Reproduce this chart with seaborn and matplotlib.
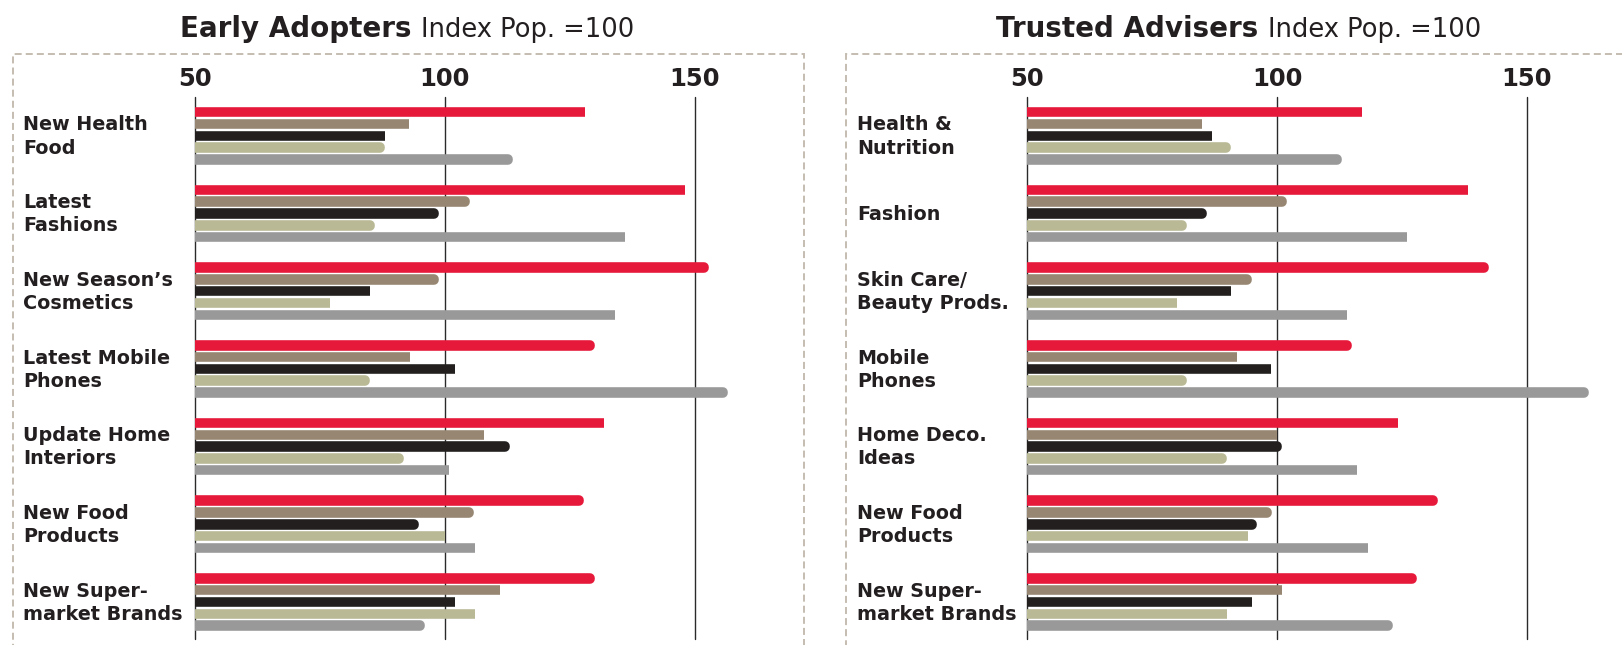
import numpy as np
import pandas as pd
import matplotlib
matplotlib.use("Agg")
import matplotlib.pyplot as plt
import matplotlib.transforms as mtransforms
from matplotlib.patches import Rectangle
import seaborn as sns

# ---------------- data ----------------
ea_categories = ["New Health\nFood", "Latest\nFashions", "New Season\u2019s\nCosmetics",
                 "Latest Mobile\nPhones", "Update Home\nInteriors", "New Food\nProducts",
                 "New Super-\nmarket Brands"]
ta_categories = ["Health &\nNutrition", "Fashion", "Skin Care/\nBeauty Prods.",
                 "Mobile\nPhones", "Home Deco.\nIdeas", "New Food\nProducts",
                 "New Super-\nmarket Brands"]
series = ["Series 1", "Series 2", "Series 3", "Series 4", "Series 5"]
colors = ["#E6193A", "#978772", "#231F1F", "#B9B995", "#999999"]

ea_s1 = [129, 149, 152.8, 130.1, 132.9, 127.8, 130.1]
ea_s2 = [93.9, 105, 98.9, 94, 108.8, 105.8, 112]
ea_s3 = [89.1, 98.9, 86, 103, 113, 94.9, 103]
ea_s4 = [88, 86, 78, 85.1, 91.9, 101, 107]
ea_s5 = [113.7, 137, 135, 156.7, 101.8, 107, 96.1]

ta_s1 = [117.9, 139.2, 142.3, 115, 125.1, 132.1, 127.9]
ta_s2 = [86, 101.9, 95, 92.9, 101, 99, 101.9]
ta_s3 = [87.9, 86, 91.8, 99.8, 101, 96, 96]
ta_s4 = [90.7, 81.9, 81, 82, 90, 95.1, 91]
ta_s5 = [112.9, 127, 115, 162.3, 117, 119.1, 123.1]

ticks = [50, 100, 150]
tick_labels = ["50", "100", "150"]
title_bold = ["Early Adopters", "Trusted Advisers"]
title_rest = "Index Pop. =100"


def make_df(cats, vals):
    rows = []
    for s, v in zip(series, vals):
        for c, x in zip(cats, v):
            rows.append({"category": c, "series": s, "value": x})
    return pd.DataFrame(rows)


ea_df = make_df(ea_categories, [ea_s1, ea_s2, ea_s3, ea_s4, ea_s5])
ta_df = make_df(ta_categories, [ta_s1, ta_s2, ta_s3, ta_s4, ta_s5])

# ---------------- style ----------------
sns.set_style("white")
plt.rcParams["font.family"] = ["DejaVu Sans"]

W, H = 1622, 645
fig = plt.figure(figsize=(W / 100, H / 100), dpi=100)

ax_top_px, ax_bot_px = 96.7, 639.0
ax_w_px = 590.0
px_per_unit = 5.0
panels = [
    dict(df=ea_df, cats=ea_categories, left_px=194.5, label_px=23.3,
         box=(12.7, 804.0), title_center=407),
    dict(df=ta_df, cats=ta_categories, left_px=1027.0, label_px=857.3,
         box=(845.7, 1700.0), title_center=1239),
]

lw_px = 9.6
lw_pt = lw_px * 72 / 100
cap_units = (lw_px / 2) / px_per_unit

axes = []
for p in panels:
    ax = fig.add_axes([p["left_px"] / W, (H - ax_bot_px) / H,
                       ax_w_px / W, (ax_bot_px - ax_top_px) / H])
    axes.append(ax)
    sns.barplot(data=p["df"], x="value", y="category", hue="series",
                hue_order=series, order=p["cats"], palette=colors,
                orient="h", width=0.759, dodge=True, saturation=1,
                legend=False, ax=ax)
    for patch in ax.patches:
        y0, h = patch.get_y(), patch.get_height()
        c = y0 + h / 2
        nh = h * 0.04
        patch.set_y(c - nh / 2)
        patch.set_height(nh)
        patch.set_width(patch.get_width() - cap_units)
        patch.set_edgecolor(patch.get_facecolor())
        patch.set_linewidth(lw_pt)
        patch.set_joinstyle("round")
        patch.set_zorder(2)

    ax.set_xlim(50, 50 + ax_w_px / px_per_unit)
    ax.set_ylim(6.476, -0.503)
    ax.set_yticks([])
    ax.set_xlabel("")
    ax.set_ylabel("")
    for s in ax.spines.values():
        s.set_visible(False)
    ax.xaxis.tick_top()
    ax.set_xticks(ticks)
    ax.set_xticklabels(tick_labels, fontsize=17.5, fontweight="bold", color="#231F20")
    ax.tick_params(axis="x", length=0, pad=4)
    for v in ticks:
        ax.axvline(v, color="#2a2a2a", lw=1.0, zorder=0.5, clip_on=False)

    trans = mtransforms.blended_transform_factory(fig.transFigure, ax.transData)
    for i, c in enumerate(p["cats"]):
        ax.text(p["label_px"] / W, i + 0.01, c, transform=trans, ha="left", va="center",
                fontsize=13.8, fontweight="bold", color="#231F20",
                linespacing=1.28, clip_on=False)

    x0, x1 = p["box"]
    rect = Rectangle((x0 / W, (H - 700) / H), (x1 - x0) / W, (700 - 54) / H,
                     transform=fig.transFigure, fill=False, edgecolor="#C5BCB1",
                     linewidth=1.4, linestyle=(0, (3.6, 2.1)))
    fig.add_artist(rect)

# titles
fig.canvas.draw()
renderer = fig.canvas.get_renderer()
base_y = 1 - 36.7 / H
for p, tb in zip(panels, title_bold):
    t1 = fig.text(0, base_y, tb, fontsize=20, fontweight="bold", ha="left",
                  va="baseline", color="#231F20")
    t2 = fig.text(0, base_y, title_rest, fontsize=18.5, ha="left",
                  va="baseline", color="#231F20")
    b1 = t1.get_window_extent(renderer=renderer)
    b2 = t2.get_window_extent(renderer=renderer)
    gap = 10
    total = b1.width + gap + b2.width
    start = p["title_center"] - total / 2
    t1.set_x(start / W)
    t2.set_x((start + b1.width + gap) / W)

fig.savefig("out.png", dpi=100)
